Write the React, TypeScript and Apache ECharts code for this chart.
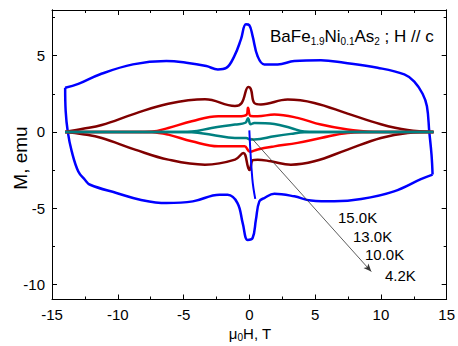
import React, { useEffect, useRef } from "react";
import * as echarts from "echarts";

// ---- data (field H in T, magnetization M in emu) ----
const blueUpper: number[][] = [
  [-14.0, 2.9], [-13.0, 3.15], [-11.38, 3.77], [-8.85, 4.43], [-6.31, 4.65], [-4.79, 4.54],
  [-3.27, 4.32], [-2.39, 4.1], [-1.75, 4.2], [-1.14, 4.97], [-0.64, 6.07], [-0.26, 7.06],
  [0.0, 7.0], [0.25, 6.29], [0.63, 4.97], [1.14, 4.43], [2.15, 4.43], [3.42, 4.65],
  [5.44, 4.71], [7.22, 4.54], [9.75, 4.21], [11.78, 3.77], [12.54, 3.3], [13.17, 2.5],
  [13.5, 1.68], [13.68, 0.0], [13.85, -1.5], [13.93, -2.8],
];
const blueLower: number[][] = [
  [13.93, -2.8], [13.04, -3.1], [11.0, -3.9], [8.5, -4.41], [6.46, -4.56], [4.68, -4.5],
  [3.42, -4.23], [1.9, -4.06], [1.14, -4.34], [0.76, -4.56], [0.5, -5.77], [0.25, -6.97],
  [-0.13, -7.09], [-0.5, -6.0], [-0.9, -4.67], [-1.65, -4.13], [-2.26, -4.12], [-4.3, -4.56],
  [-6.3, -4.67], [-8.3, -4.45], [-10.1, -4.01], [-12.1, -3.47], [-12.5, -3.14], [-13.0, -2.6],
  [-13.5, -1.28], [-13.8, 0.0], [-13.96, 1.36], [-14.0, 2.9],
];
const blueVirgin: number[][] = [[0.0, 0.1], [0.23, -3.1], [0.45, -4.4]];

const maroonUpper: number[][] = [
  [-14, 0], [-12.65, 0.2], [-11.22, 0.45], [-8.69, 1.2], [-6.16, 1.85], [-3.37, 2.14],
  [-1.09, 1.7], [-0.58, 1.9], [-0.08, 2.95], [0.12, 2.8], [0.38, 1.9], [0.88, 1.8],
  [2.91, 2.12], [4.94, 1.9], [7.47, 1.2], [10.0, 0.5], [12.03, 0.12], [14, 0],
];
const maroonLower: number[][] = [
  [14, 0], [12.03, -0.07], [10.0, -0.4], [7.47, -1.16], [4.94, -1.93], [3.16, -2.15],
  [1.64, -1.93], [0.63, -1.82], [0.27, -1.85], [0.02, -2.5], [-0.08, -2.37], [-0.46, -1.38],
  [-1.09, -1.82], [-3.37, -2.15], [-6.16, -1.82], [-8.69, -1.16], [-11.22, -0.4],
  [-12.65, -0.15], [-14, 0],
];
const redUpper: number[][] = [
  [-14, 0], [-10, 0], [-7.4, 0.02], [-6.16, 0.26], [-4.38, 0.7], [-2.36, 1.03], [-0.84, 1.03],
  [-0.2, 1.14], [-0.1, 1.58], [0.1, 1.05], [0.63, 1.03], [1.9, 1.14], [3.67, 0.92],
  [5.44, 0.48], [7.47, 0.15], [9.0, 0.02], [11, 0], [14, 0],
];
const redLower: number[][] = [
  [14, 0], [11, 0], [9.0, -0.02], [7.47, -0.07], [5.44, -0.4], [3.67, -0.72], [1.9, -0.95],
  [0.63, -1.15], [0.05, -1.3], [-0.36, -0.95], [-0.84, -0.95], [-2.36, -0.95],
  [-4.38, -0.62], [-6.16, -0.18], [-7.4, -0.02], [-10, 0], [-14, 0],
];
const tealUpper: number[][] = [
  [-14, 0], [-10, 0], [-6, 0], [-4.38, 0.02], [-2.87, 0.26], [-1.09, 0.48], [-0.3, 0.6],
  [-0.1, 0.9], [0.1, 0.5], [0.38, 0.59], [1.9, 0.52], [3.16, 0.26], [4.18, 0.02], [6, 0],
  [10, 0], [14, 0],
];
const tealLower: number[][] = [
  [14, 0], [10, 0], [6, 0], [4.18, -0.02], [3.16, -0.13], [1.9, -0.29], [0.38, -0.5],
  [0.05, -0.5], [-0.23, -0.4], [-1.09, -0.4], [-2.87, -0.18], [-4.38, -0.02], [-6, 0],
  [-10, 0], [-14, 0],
];

const arrowFrom = [0.15, -0.39];
const arrowTo = [9.27, -9.17];

const xMin = -15;
const xMax = 15;
const xInterval = 5;
const yMin = -11;
const yMax = 8;
const yMajorTicks = [-10, -5, 0, 5];
const yMinorTicks = [-7.5, -2.5, 2.5, 7.5];
const tempLabels = ["15.0K", "13.0K", "10.0K", "4.2K"];

const FONT = "'Liberation Sans', Arial, sans-serif";
const BLUE = "#0000ff";
const MAROON = "#800000";
const RED = "#ff0000";
const TEAL = "#008080";

export default function App() {
  const ref = useRef<HTMLDivElement>(null);
  useEffect(() => {
    if (!ref.current) return;
    const chart = echarts.init(ref.current, undefined, { renderer: "svg" });

    const lineSeries = (data: number[][], color: string, extra: any = {}) => ({
      type: "line",
      data,
      showSymbol: false,
      smooth: 0.4,
      lineStyle: { color, width: 2.5 },
      itemStyle: { color },
      silent: true,
      z: 2,
      ...extra,
    });

    const xCommon = {
      type: "value",
      min: xMin,
      max: xMax,
      interval: xInterval,
      axisLine: { onZero: false, lineStyle: { color: "#000", width: 1 } },
      axisTick: { inside: true, length: 5, lineStyle: { color: "#000" } },
      minorTick: { show: true, splitNumber: 2, length: 3, lineStyle: { color: "#000" } },
      splitLine: { show: false },
      minorSplitLine: { show: false },
    };
    const yBase = {
      type: "value",
      min: yMin,
      max: yMax,
      axisLine: { onZero: false, lineStyle: { color: "#000", width: 1 } },
      splitLine: { show: false },
    };

    const tempPos = [
      [338, 217],
      [353, 236],
      [365, 254],
      [385, 275],
    ];

    chart.setOption({
      animation: false,
      grid: { left: 52, top: 10, width: 395, height: 289.5, containLabel: false },
      xAxis: [
        {
          ...xCommon,
          position: "bottom",
          axisLabel: { fontSize: 15, color: "#000", margin: 7, fontFamily: FONT },
        },
        { ...xCommon, position: "top", axisLabel: { show: false } },
      ],
      yAxis: [
        {
          ...yBase,
          position: "left",
          axisTick: { inside: true, length: 5, customValues: yMajorTicks, lineStyle: { color: "#000" } },
          axisLabel: { customValues: yMajorTicks, fontSize: 15, color: "#000", margin: 7, fontFamily: FONT },
        },
        {
          ...yBase,
          position: "left",
          axisTick: { inside: true, length: 3, customValues: yMinorTicks, lineStyle: { color: "#000" } },
          axisLabel: { show: false },
        },
        {
          ...yBase,
          position: "right",
          axisTick: { inside: true, length: 5, customValues: yMajorTicks, lineStyle: { color: "#000" } },
          axisLabel: { show: false },
        },
        {
          ...yBase,
          position: "right",
          axisTick: { inside: true, length: 3, customValues: yMinorTicks, lineStyle: { color: "#000" } },
          axisLabel: { show: false },
        },
      ],
      series: [
        lineSeries(blueUpper, BLUE),
        lineSeries(blueLower, BLUE),
        lineSeries(blueVirgin, BLUE, { lineStyle: { color: BLUE, width: 2 }, z: 5 }),
        lineSeries(maroonUpper, MAROON),
        lineSeries(maroonLower, MAROON),
        lineSeries(redUpper, RED),
        lineSeries(redLower, RED),
        lineSeries(tealUpper, TEAL),
        lineSeries(tealLower, TEAL, {
          markLine: {
            silent: true,
            symbol: ["none", "arrow"],
            symbolSize: [5, 8],
            label: { show: false },
            lineStyle: { color: "#333", width: 0.8, type: "solid" },
            data: [[{ coord: arrowFrom }, { coord: arrowTo }]],
          },
        }),
      ],
      graphic: [
        {
          type: "text",
          x: 270,
          y: 36,
          style: {
            text: "{n|BaFe}{s|1.9}{n|Ni}{s|0.1}{n|As}{s|2}{n| ; H // c}",
            verticalAlign: "middle",
            align: "left",
            rich: {
              n: { fontSize: 17, fontFamily: FONT, fill: "#000", lineHeight: 20 },
              s: { fontSize: 10, fontFamily: FONT, fill: "#000", lineHeight: 4, verticalAlign: "bottom" },
            },
          },
        },
        {
          type: "text",
          x: 250,
          y: 333,
          style: {
            text: "{n|μ}{s|0}{n|H, T}",
            verticalAlign: "middle",
            align: "center",
            rich: {
              n: { fontSize: 15, fontFamily: FONT, fill: "#000", lineHeight: 18 },
              s: { fontSize: 10, fontFamily: FONT, fill: "#000", lineHeight: 6, verticalAlign: "bottom" },
            },
          },
        },
        {
          type: "text",
          x: 20,
          y: 158,
          rotation: Math.PI / 2,
          style: {
            text: "M, emu",
            font: `19px ${FONT}`,
            fill: "#000",
            align: "center",
            verticalAlign: "middle",
          },
        },
        ...tempLabels.map((t, i) => ({
          type: "text",
          x: tempPos[i][0],
          y: tempPos[i][1],
          style: {
            text: t,
            font: `15px ${FONT}`,
            fill: "#000",
            align: "left",
            verticalAlign: "middle",
          },
        })),
      ],
    });
    return () => chart.dispose();
  }, []);
  return (
    <div
      ref={ref}
      style={{ position: "fixed", left: 0, top: 0, width: 458, height: 346, background: "#fff" }}
    />
  );
}
